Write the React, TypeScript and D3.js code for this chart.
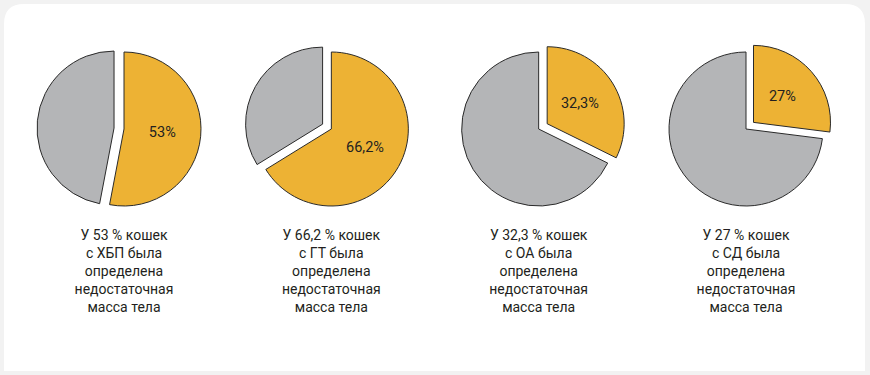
import * as d3 from "d3";
import React from "react";

const W = 870;
const H = 375;

// share of cats with insufficient body weight, per condition
const conditions = ["ХБП", "ГТ", "ОА", "СД"];
const shares = [53, 66.2, 32.3, 27];
const shareLabels = ["53%", "66,2%", "32,3%", "27%"];
const captionFirst = ["У 53 % кошек", "У 66,2 % кошек", "У 32,3 % кошек", "У 27 % кошек"];
const captionRest = ["определена", "недостаточная", "масса тела"];

const ORANGE = "#edb234";
const GREY = "#b4b5b7";
const FONT = "Roboto, 'Open Sans', sans-serif";

const x = d3.scalePoint<string>().domain(conditions).range([124, 746]);
const radius = 77;
const cy = 129;
const explode = 10;

const pie = d3
  .pie<number>()
  .sort(null)
  .value((d) => d);
const arc = d3.arc<d3.PieArcDatum<number>>().innerRadius(0).outerRadius(radius);
const labelArc = d3
  .arc<d3.PieArcDatum<number>>()
  .innerRadius(radius * 0.5)
  .outerRadius(radius * 0.5);

const App: React.FC = () => {
  return (
    <>
      <style>{"body{margin:0}"}</style>
      <svg width={W} height={H} style={{ display: "block" }}>
        <rect width={W} height={H} fill="#f2f2f2" />
        <path
          d={`M4,371 V24 Q4,4 24,4 H845 Q865,4 865,24 V371 Z`}
          fill="#ffffff"
        />
        {conditions.map((c, i) => {
          const cx = x(c) as number;
          const slices = pie([shares[i], 100 - shares[i]]);
          const smaller = shares[i] < 50 ? 0 : 1;
          return (
            <g key={c}>
              {slices.map((s, j) => {
                const mid = (s.startAngle + s.endAngle) / 2;
                const off = j === smaller ? explode : 0;
                const dx = Math.sin(mid) * off;
                const dy = -Math.cos(mid) * off;
                return (
                  <path
                    key={j}
                    d={arc(s) || ""}
                    transform={`translate(${cx + dx},${cy + dy})`}
                    fill={j === 0 ? ORANGE : GREY}
                    stroke="#2a2a2a"
                    strokeWidth={1}
                    strokeLinejoin="miter"
                  />
                );
              })}
              {(() => {
                const s = slices[0];
                const mid = (s.startAngle + s.endAngle) / 2;
                const off = smaller === 0 ? explode : 0;
                const [lx, ly] = labelArc.centroid(s);
                return (
                  <text
                    x={cx + lx + Math.sin(mid) * off}
                    y={cy + ly - Math.cos(mid) * off}
                    textAnchor="middle"
                    dominantBaseline="central"
                    fontFamily={FONT}
                    fontSize={14.5}
                    fill="#231f20"
                  >
                    {shareLabels[i]}
                  </text>
                );
              })()}
              <text
                x={cx}
                textAnchor="middle"
                fontFamily={FONT}
                fontSize={14}
                fill="#231f20"
              >
                {[captionFirst[i], `с ${c} была`, ...captionRest].map((line, k) => (
                  <tspan key={k} x={cx} y={240 + k * 18}>
                    {line}
                  </tspan>
                ))}
              </text>
            </g>
          );
        })}
      </svg>
    </>
  );
};

export default App;
